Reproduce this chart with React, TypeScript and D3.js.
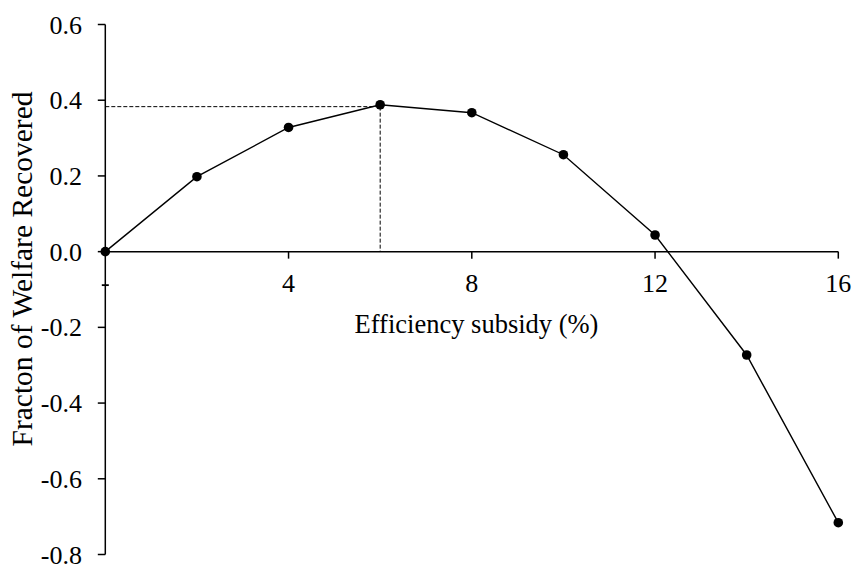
import React from "react";
import * as d3 from "d3";

const subsidy = [0, 2, 4, 6, 8, 10, 12, 14, 16];
const welfare = [0, 0.198, 0.328, 0.388, 0.367, 0.256, 0.044, -0.273, -0.716];
const xTicks = [4, 8, 12, 16];
const yTicks = [0.6, 0.4, 0.2, 0.0, -0.2, -0.4, -0.6, -0.8];
const optimumX = 6;
const optimumY = 0.383;
const xTitle = "Efficiency subsidy (%)";
const yTitle = "Fracton of Welfare Recovered";

const W = 852;
const H = 565;
const FONT = '"Liberation Serif", "Times New Roman", Tinos, "DejaVu Serif", serif';

export default function App() {
  const x = d3.scaleLinear().domain([0, 16]).range([105.3, 838.3]);
  const y = d3.scaleLinear().domain([-0.8, 0.6]).range([554.5, 24.5]);
  const pts = subsidy.map((s, i) => [s, welfare[i]] as [number, number]);
  const line = d3
    .line<[number, number]>()
    .x((d) => x(d[0]))
    .y((d) => y(d[1]));
  const x0 = x(0);
  const y0 = y(0);
  const ts: React.CSSProperties = { fontFamily: FONT };
  return (
    <svg
      width={W}
      height={H}
      style={{ position: "absolute", left: 0, top: 0, background: "#fff", fontFamily: FONT }}
    >
      {/* y axis */}
      <line x1={x0} x2={x0} y1={y(0.6)} y2={y(-0.8)} stroke="#000" strokeWidth={1.5} />
      {yTicks.map((t) => (
        <g key={"y" + t}>
          <line x1={x0 - 7.5} x2={x0} y1={y(t)} y2={y(t)} stroke="#000" strokeWidth={1.5} />
          <text x={82} y={y(t) + 9} textAnchor="end" fontSize={26} fill="#000" style={ts}>
            {t.toFixed(1)}
          </text>
        </g>
      ))}
      {/* stray mark on y axis */}
      <line x1={x0 - 3.5} x2={x0 + 3.5} y1={y0 + 33.5} y2={y0 + 33.5} stroke="#000" strokeWidth={1.8} />
      {/* x axis */}
      <line x1={x0} x2={x(16)} y1={y0} y2={y0} stroke="#000" strokeWidth={1.5} />
      {xTicks.map((t) => (
        <g key={"x" + t}>
          <line x1={x(t)} x2={x(t)} y1={y0} y2={y0 + 7} stroke="#000" strokeWidth={1.5} />
          <text x={x(t)} y={292} textAnchor="middle" fontSize={26} fill="#000" style={ts}>
            {t}
          </text>
        </g>
      ))}
      <text x={476.5} y={333} textAnchor="middle" fontSize={26.5} fill="#000" style={ts}>
        {xTitle}
      </text>
      <text
        transform={`translate(31.5, 269) rotate(-90)`}
        textAnchor="middle"
        fontSize={29.5}
        fill="#000"
        style={ts}
      >
        {yTitle}
      </text>
      {/* optimum guides */}
      <line
        x1={x0}
        x2={x(optimumX)}
        y1={y(optimumY)}
        y2={y(optimumY)}
        stroke="#000"
        strokeWidth={1}
        strokeDasharray="4,2"
      />
      <line
        x1={x(optimumX)}
        x2={x(optimumX)}
        y1={y(optimumY)}
        y2={y0}
        stroke="#000"
        strokeWidth={1}
        strokeDasharray="4,2"
      />
      {/* series */}
      <path d={line(pts) || ""} fill="none" stroke="#000" strokeWidth={1.4} />
      {pts.map((p, i) => (
        <circle key={i} cx={x(p[0])} cy={y(p[1])} r={4.8} fill="#000" />
      ))}
    </svg>
  );
}
